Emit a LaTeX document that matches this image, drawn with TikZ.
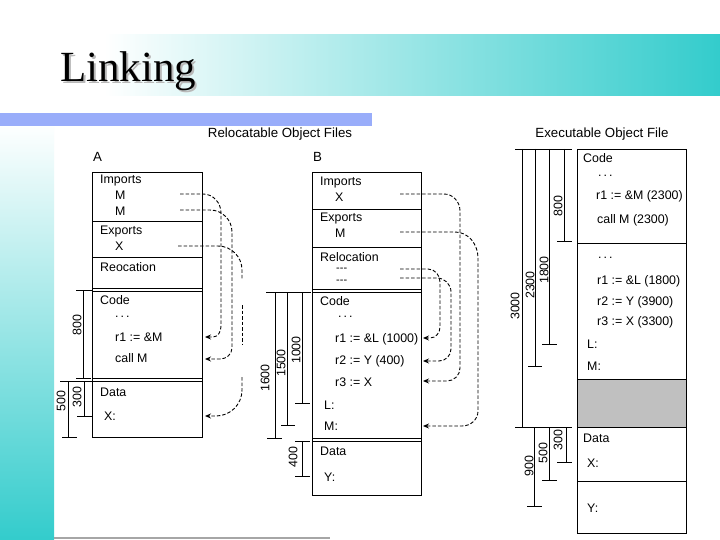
\documentclass[tikz,border=0pt]{standalone}
\usepackage{fontspec}
\setmainfont{Liberation Sans}
\newfontfamily\titlefont{Liberation Serif}
\usetikzlibrary{arrows.meta}
\definecolor{tealc}{RGB}{51,204,204}
\definecolor{bluebar}{RGB}{153,173,250}
\definecolor{graybox}{RGB}{192,192,192}
\pgfdeclarehorizontalshading{titleshade}{100bp}{color(0bp)=(white); color(25bp)=(white); color(31bp)=(white); color(75bp)=(tealc); color(100bp)=(tealc)}
\pgfdeclareverticalshading{leftshade}{100bp}{color(0bp)=(tealc); color(25bp)=(tealc); color(72bp)=(white); color(100bp)=(white)}
\tikzset{
  lbl/.style={anchor=west, inner sep=0pt, font=\fontsize{12.4}{14}\selectfont},
  hdr/.style={inner sep=0pt, font=\fontsize{13.3}{15}\selectfont},
  dimlbl/.style={rotate=90, inner sep=0pt, font=\fontsize{12.4}{14}\selectfont},
  box/.style={draw=black, line width=0.9pt},
  dimline/.style={line width=0.9pt},
  link/.style={dash pattern=on 3.5pt off 2pt, line width=0.9pt},
  linkarr/.style={link, -{Stealth[length=6pt,width=5pt]}},
}
\begin{document}
\begin{tikzpicture}[x=1pt,y=-1pt]
\useasboundingbox (0,0) rectangle (720,540);
\fill[white] (0,0) rectangle (720,540);
% background decorations
\shade[shading=leftshade] (0,96) rectangle (54,540);
\shade[shading=titleshade] (20,35) rectangle (720,96);
\fill[bluebar] (0,113) rectangle (372,126);
\draw[gray!70, line width=1.2pt] (54,538) -- (330,538);
\node[anchor=base west, inner sep=0pt, font=\titlefont\fontsize{43}{50}\selectfont] (title) at (60,82) {\rlap{\kern2pt\raisebox{-2pt}{\textcolor{gray!55}{Linking}}}Linking};

% headers
\node[hdr] (hRel) at (280,134) {Relocatable Object Files};
\node[hdr] (hExe) at (602,134) {Executable Object File};
\node[hdr, anchor=west] (hA) at (93,157) {A};
\node[hdr, anchor=west] (hB) at (313,157) {B};

% ---------- Box A ----------
\draw[box] (92,172) rectangle (202,437);
\draw[box] (92,221) -- (202,221);
\draw[box] (92,257) -- (202,257);
\draw[box] (92,288) -- (202,288);
\draw[box] (92,291) -- (202,291);
\draw[box] (92,378) -- (202,378);
\draw[box] (92,381) -- (202,381);
\node[lbl] (aImp) at (100,181) {Imports};
\node[lbl] (aM1) at (115,195) {M};
\node[lbl] (aM2) at (115,211) {M};
\node[lbl] (aExp) at (100,232) {Exports};
\node[lbl] (aX) at (115,246) {X};
\node[lbl] (aRel) at (100,267) {Reocation};
\node[lbl] (aCode) at (100,300) {Code};
\node[lbl] (aDots) at (115,317) {.\hspace{2pt}.\hspace{2pt}.};
\node[lbl] (aR1) at (115,337) {r1 := \&M};
\node[lbl] (aCall) at (115,358) {call M};
\node[lbl] (aData) at (100,392) {Data};
\node[lbl] (aXl) at (104,416) {X:};

% A dimensions
\draw[dimline] (76,290) -- (92,290);
\draw[dimline] (83,290) -- (83,378);
\draw[dimline] (76,378) -- (91,378);
\draw[dimline] (60,381) -- (92,381);
\draw[dimline] (68,381) -- (68,437);
\draw[dimline] (62,437) -- (77,437);
\draw[dimline] (84,381) -- (84,416);
\draw[dimline] (77,416) -- (92,416);
\node[dimlbl] (aD800) at (77,325) {800};
\node[dimlbl] (aD500) at (61,401) {500};
\node[dimlbl] (aD300) at (77,397) {300};

% A links
\coordinate (a1s) at (180,194); \coordinate (a1e) at (205,337);
\coordinate (a2s) at (180,210); \coordinate (a2e) at (205,359);
\coordinate (a3s) at (178,246); \coordinate (a3e) at (242,280);
\coordinate (a4s) at (242,305); \coordinate (a4e) at (242,345);
\coordinate (a5s) at (242,377); \coordinate (a5e) at (205,416);
\draw[linkarr] (a1s) -- (203,194) to[out=0,in=90] (221,213) -- (221,326) to[out=-90,in=0] (213,337) -- (a1e);
\draw[linkarr] (a2s) -- (210,210) to[out=0,in=90] (232,232) -- (232,348) to[out=-90,in=0] (220,359) -- (a2e);
\draw[link] (a3s) -- (218,246) to[out=0,in=90] (242,270) -- (a3e);
\draw[link] (a4s) -- (a4e);
\draw[linkarr] (a5s) -- (242,390) to[out=-90,in=0] (216,416) -- (a5e);

% ---------- Box B ----------
\draw[box] (312,172) rectangle (421,495);
\draw[box] (312,209) -- (421,209);
\draw[box] (312,247) -- (421,247);
\draw[box] (312,289) -- (421,289);
\draw[box] (312,292) -- (421,292);
\draw[box] (312,438) -- (421,438);
\draw[box] (312,441) -- (421,441);
\node[lbl] (bImp) at (320,183) {Imports};
\node[lbl] (bX) at (335,197) {X};
\node[lbl] (bExp) at (320,219) {Exports};
\node[lbl] (bM) at (335,233) {M};
\node[lbl] (bRel) at (320,257) {Relocation};
\node[lbl, font=\fontsize{11}{12}\selectfont] (bRr1) at (336,270) {-{}-{}-};
\node[lbl, font=\fontsize{11}{12}\selectfont] (bRr2) at (336,282) {-{}-{}-};
\node[lbl] (bCode) at (320,301) {Code};
\node[lbl] (bDots) at (338,317) {.\hspace{2pt}.\hspace{2pt}.};
\node[lbl] (bL1) at (335,339) {r1 := \&L (1000)};
\node[lbl] (bL2) at (335,361) {r2 := Y (400)};
\node[lbl] (bL3) at (335,382) {r3 := X};
\node[lbl] (bL) at (324,405) {L:};
\node[lbl] (bMl) at (324,426) {M:};
\node[lbl] (bData) at (320,451) {Data};
\node[lbl] (bY) at (324,477) {Y:};

% B dimensions
\draw[dimline] (266,292) -- (311,292);
\draw[dimline] (275,292) -- (275,438);
\draw[dimline] (267,438) -- (282,438);
\draw[dimline] (287,292) -- (287,425);
\draw[dimline] (281,425) -- (295,425);
\draw[dimline] (302,292) -- (302,403);
\draw[dimline] (295,403) -- (310,403);
\draw[dimline] (302,441) -- (302,476);
\draw[dimline] (295,441) -- (310,441);
\draw[dimline] (295,476) -- (310,476);
\node[dimlbl] (bD1600) at (265,378) {1600};
\node[dimlbl] (bD1500) at (281,363) {1500};
\node[dimlbl] (bD1000) at (296,350) {1000};
\node[dimlbl] (bD400) at (293,457) {400};

% B links
\coordinate (b1s) at (400,194); \coordinate (b1e) at (423,381);
\coordinate (b2s) at (400,232); \coordinate (b2e) at (423,426);
\coordinate (b3s) at (400,269); \coordinate (b3e) at (423,338);
\coordinate (b4s) at (400,278); \coordinate (b4e) at (423,361);
\draw[linkarr] (b1s) -- (444,194) to[out=0,in=90] (460,211) -- (460,368) to[out=-90,in=0] (447,381) -- (b1e);
\draw[linkarr] (b2s) -- (455,232) to[out=0,in=90] (478,258) -- (478,411) to[out=-90,in=0] (462,426) -- (b2e);
\draw[linkarr] (b3s) -- (428,269) to[out=0,in=90] (440,282) -- (440,327) to[out=-90,in=0] (430,338) -- (b3e);
\draw[linkarr] (b4s) -- (437,278) to[out=0,in=90] (451,292) -- (451,349) to[out=-90,in=0] (439,361) -- (b4e);

% ---------- Executable ----------
\fill[graybox] (577,379) rectangle (686,427);
\draw[box] (577,149) rectangle (686,533);
\draw[box] (577,243) -- (686,243);
\draw[box] (577,379) -- (686,379);
\draw[box] (577,427) -- (686,427);
\draw[box] (577,481) -- (686,481);
\node[lbl] (eCode) at (583,158) {Code};
\node[lbl] (eDots1) at (598,176) {.\hspace{2pt}.\hspace{2pt}.};
\node[lbl] (eR1) at (596,196) {r1 := \&M (2300)};
\node[lbl] (eCall) at (597,220) {call M (2300)};
\node[lbl] (eDots2) at (598,258) {.\hspace{2pt}.\hspace{2pt}.};
\node[lbl] (eL1) at (597,281) {r1 := \&L (1800)};
\node[lbl] (eL2) at (597,302) {r2 := Y (3900)};
\node[lbl] (eL3) at (597,322) {r3 := X (3300)};
\node[lbl] (eL) at (587,344) {L:};
\node[lbl] (eM) at (587,366) {M:};
\node[lbl] (eData) at (583,438) {Data};
\node[lbl] (eX) at (587,463) {X:};
\node[lbl] (eY) at (587,508) {Y:};

% Exec dimensions
\draw[dimline] (515,149) -- (572,149);
\draw[dimline] (522,149) -- (522,427);
\draw[dimline] (515,427) -- (572,427);
\draw[dimline] (535,149) -- (535,366);
\draw[dimline] (528,366) -- (542,366);
\draw[dimline] (549,149) -- (549,344);
\draw[dimline] (542,344) -- (557,344);
\draw[dimline] (564,149) -- (564,241);
\draw[dimline] (557,241) -- (572,241);
\draw[dimline] (534,428) -- (534,506);
\draw[dimline] (527,506) -- (542,506);
\draw[dimline] (549,428) -- (549,480);
\draw[dimline] (542,480) -- (557,480);
\draw[dimline] (566,428) -- (566,462);
\draw[dimline] (557,462) -- (572,462);
\node[dimlbl] (eD3000) at (515,306) {3000};
\node[dimlbl] (eD2300) at (530,285) {2300};
\node[dimlbl] (eD1800) at (544,270) {1800};
\node[dimlbl] (eD800) at (558,206) {800};
\node[dimlbl] (eD900) at (529,466) {900};
\node[dimlbl] (eD500) at (543,453) {500};
\node[dimlbl] (eD300) at (558,440) {300};
\end{tikzpicture}
\end{document}
